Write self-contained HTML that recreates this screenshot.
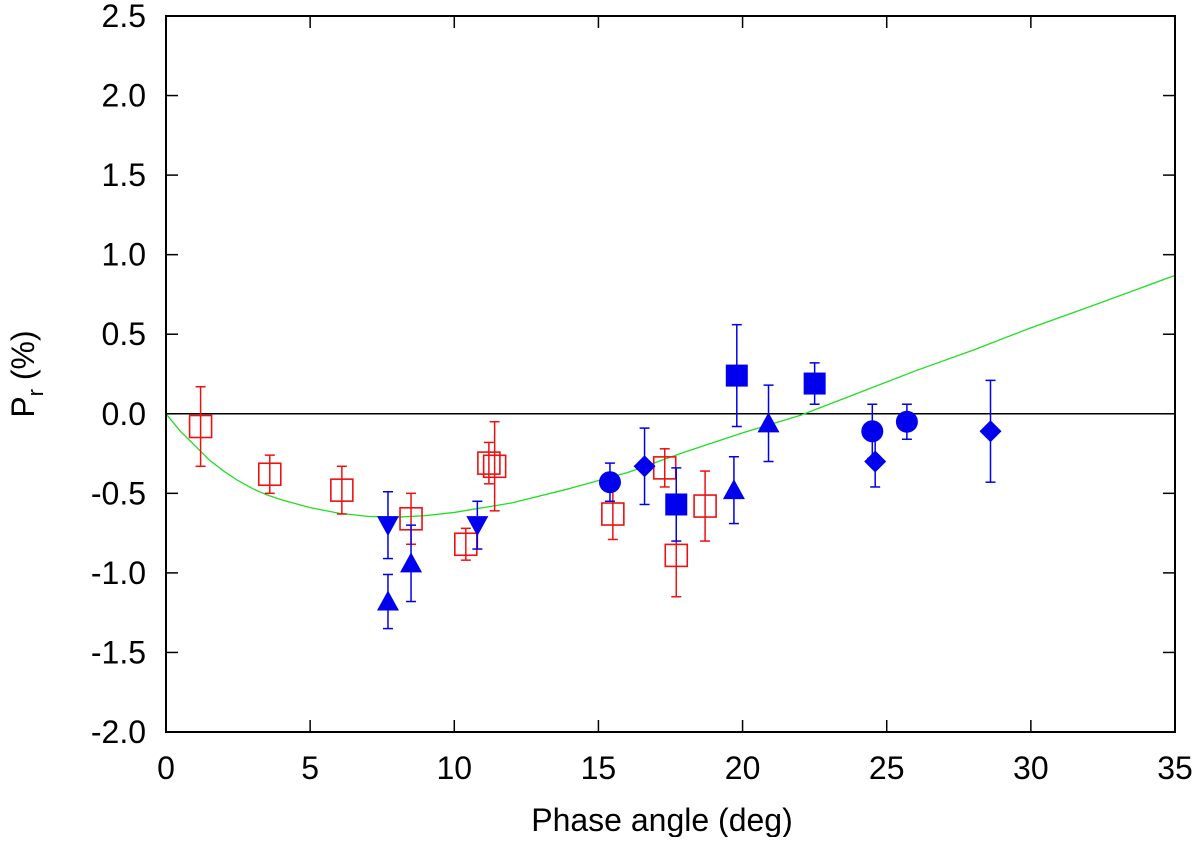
<!DOCTYPE html>
<html><head><meta charset="utf-8"><style>
body{margin:0;background:#fff}
text{font-family:"Liberation Sans",sans-serif}
</style></head><body>
<svg id="chart" width="1200" height="837" xmlns="http://www.w3.org/2000/svg"></svg>
<script>
const xTicks=[0,5,10,15,20,25,30,35];
const yTicks=[-2.0,-1.5,-1.0,-0.5,0.0,0.5,1.0,1.5,2.0,2.5];
// red open squares
const redX=[1.2,3.6,6.1,8.5,10.4,11.2,11.4,15.5,17.3,17.7,18.7];
const redY=[-0.08,-0.38,-0.48,-0.66,-0.82,-0.31,-0.33,-0.63,-0.34,-0.89,-0.58];
const redE=[0.25,0.12,0.15,0.16,0.10,0.13,0.28,0.16,0.12,0.26,0.22];
// blue down triangles
const dtriX=[7.7,10.8];
const dtriY=[-0.70,-0.70];
const dtriE=[0.21,0.15];
// blue up triangles
const utriX=[7.7,8.5,19.7,20.9];
const utriY=[-1.18,-0.94,-0.48,-0.06];
const utriE=[0.17,0.24,0.21,0.24];
// blue circles
const circX=[15.4,24.5,25.7];
const circY=[-0.43,-0.11,-0.05];
const circE=[0.12,0.17,0.11];
// blue diamonds
const diaX=[16.6,24.6,28.6];
const diaY=[-0.33,-0.30,-0.11];
const diaE=[0.24,0.16,0.32];
// blue filled squares
const fsqX=[17.7,19.8,22.5];
const fsqY=[-0.57,0.24,0.19];
const fsqE=[0.23,0.32,0.13];
// fit curve samples
const fitX=[0,0.5,1,1.5,2,2.5,3,3.5,4,5,6,7,8,9,10,12,14,16,18,20,22,24,26,28,30,32,35];
const fitY=[0,-0.11,-0.2,-0.29,-0.36,-0.42,-0.47,-0.51,-0.54,-0.59,-0.625,-0.645,-0.65,-0.64,-0.62,-0.56,-0.47,-0.37,-0.24,-0.12,-0.01,0.13,0.27,0.40,0.54,0.67,0.87];

const L=166,R=1175,T=16,B=732;
const sx=v=>L+(v-0)/35*(R-L);
const sy=v=>B-(v+2)/4.5*(B-T);
const svg=document.getElementById('chart');
const NS='http://www.w3.org/2000/svg';
function mk(tag,attrs,parent){const e=document.createElementNS(NS,tag);for(const k in attrs)e.setAttribute(k,attrs[k]);(parent||svg).appendChild(e);return e;}

const z=mk('line',{x1:L,x2:R,y1:sy(0),y2:sy(0),stroke:'#000','stroke-width':1.5});



xTicks.forEach(v=>{
  const x=sx(v);
  mk('line',{x1:x,x2:x,y1:B,y2:B-12,stroke:'#000','stroke-width':1.5});
  mk('line',{x1:x,x2:x,y1:T,y2:T+12,stroke:'#000','stroke-width':1.5});
  const t=mk('text',{x:x,y:779,'text-anchor':'middle','font-size':32});
  t.textContent=String(v);
  
  
});
yTicks.forEach(v=>{
  const y=sy(v);
  mk('line',{x1:L,x2:L+12,y1:y,y2:y,stroke:'#000','stroke-width':1.5});
  mk('line',{x1:R,x2:R-12,y1:y,y2:y,stroke:'#000','stroke-width':1.5});
  const t=mk('text',{x:146,y:y+11,'text-anchor':'end','font-size':32});
  t.textContent=v.toFixed(1);
  
  
});

const fit=mk('polyline',{points:fitX.map((x,i)=>sx(x)+','+sy(fitY[i])).join(' '),fill:'none',stroke:'#22dd22','stroke-width':1.3,'stroke-linejoin':'round'});



function errbar(x,y,e,col){
  const g=mk('g',{stroke:col,'stroke-width':1.5});
  const X=sx(x),y1=sy(y+e),y2=sy(y-e);
  mk('line',{x1:X,x2:X,y1:y1,y2:y2},g);
  mk('line',{x1:X-5,x2:X+5,y1:y1,y2:y1},g);
  mk('line',{x1:X-5,x2:X+5,y1:y2,y2:y2},g);
  return g;
}
const blue='#0000ee',red='#ee1111';
redX.forEach((x,i)=>{
  const eb=errbar(x,redY[i],redE[i],red);
  
  
  const r=mk('rect',{x:sx(x)-11,y:sy(redY[i])-11,width:22,height:22,fill:'none',stroke:red,'stroke-width':1.6});
  
  
});
dtriX.forEach((x,i)=>{
  const eb=errbar(x,dtriY[i],dtriE[i],blue);
  
  
  const X=sx(x),Y=sy(dtriY[i]);
  const p=mk('polygon',{points:`${X-11},${Y-9} ${X+11},${Y-9} ${X},${Y+11}`,fill:blue});
  
  
});
utriX.forEach((x,i)=>{
  const eb=errbar(x,utriY[i],utriE[i],blue);
  
  
  const X=sx(x),Y=sy(utriY[i]);
  const p=mk('polygon',{points:`${X-11},${Y+9} ${X+11},${Y+9} ${X},${Y-11}`,fill:blue});
  
  
});
circX.forEach((x,i)=>{
  const eb=errbar(x,circY[i],circE[i],blue);
  
  
  const c=mk('circle',{cx:sx(x),cy:sy(circY[i]),r:11,fill:blue});
  
  
});
diaX.forEach((x,i)=>{
  const eb=errbar(x,diaY[i],diaE[i],blue);
  
  
  const X=sx(x),Y=sy(diaY[i]);
  const p=mk('polygon',{points:`${X-11},${Y} ${X},${Y-11} ${X+11},${Y} ${X},${Y+11}`,fill:blue});
  
  
});
fsqX.forEach((x,i)=>{
  const eb=errbar(x,fsqY[i],fsqE[i],blue);
  
  
  const r=mk('rect',{x:sx(x)-11,y:sy(fsqY[i])-11,width:22,height:22,fill:blue});
  
  
});

const fr=mk('rect',{x:L,y:T,width:R-L,height:B-T,fill:'none',stroke:'#000','stroke-width':2});



const xt=mk('text',{x:662,y:831,'text-anchor':'middle','font-size':32});
xt.textContent='Phase angle (deg)';


const yt=mk('text',{transform:'translate(34,374) rotate(-90)','text-anchor':'middle','font-size':32});
yt.innerHTML='P<tspan font-size="22" dy="9">r</tspan><tspan dy="-9"> (%)</tspan>';


</script>
</body></html>
